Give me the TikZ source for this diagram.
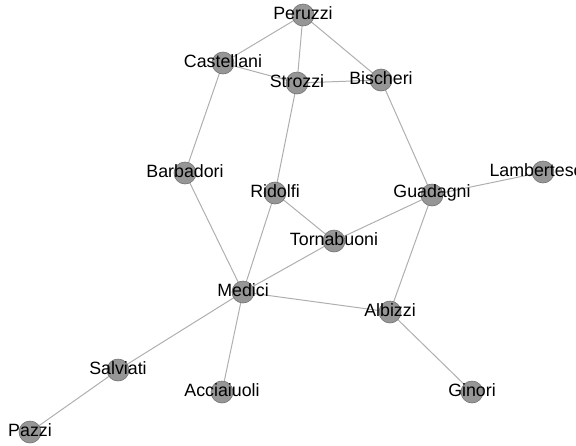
\documentclass[tikz,border=0pt]{standalone}
\usepackage{fontspec}
\setmainfont{Liberation Sans}
\definecolor{nodefill}{RGB}{150,150,150}
\definecolor{nodeline}{RGB}{115,115,115}
\definecolor{edgecol}{RGB}{175,175,175}
\tikzset{
  fam/.style={circle, fill=nodefill, draw=nodeline, line width=0.6pt, minimum size=22pt, inner sep=0pt},
  famlabel/.style={font=\fontsize{17.8}{20}\selectfont, text=black, inner sep=0pt, yshift=2pt},
  tie/.style={draw=edgecol, line width=1pt}
}
\begin{document}
\begin{tikzpicture}[x=1pt,y=-1pt]
\useasboundingbox (0,0) rectangle (576,445);
\clip (0,0) rectangle (576,445);
% family positions
\coordinate (Peruzzi) at (303,15);
\coordinate (Castellani) at (223,63);
\coordinate (Strozzi) at (297,83);
\coordinate (Bischeri) at (381,80);
\coordinate (Barbadori) at (185,173);
\coordinate (Ridolfi) at (275,193);
\coordinate (Guadagni) at (432,195);
\coordinate (Lamberteschi) at (543,172);
\coordinate (Tornabuoni) at (334,241);
\coordinate (Medici) at (243,292);
\coordinate (Albizzi) at (390,312);
\coordinate (Salviati) at (118,370);
\coordinate (Acciaiuoli) at (222,392);
\coordinate (Ginori) at (472,392);
\coordinate (Pazzi) at (30,432);
% marriage ties
\foreach \a/\b in {Peruzzi/Castellani, Peruzzi/Strozzi, Peruzzi/Bischeri,
  Castellani/Strozzi, Strozzi/Bischeri, Castellani/Barbadori, Strozzi/Ridolfi,
  Bischeri/Guadagni, Barbadori/Medici, Ridolfi/Medici, Ridolfi/Tornabuoni,
  Guadagni/Lamberteschi, Guadagni/Tornabuoni, Guadagni/Albizzi,
  Tornabuoni/Medici, Medici/Albizzi, Medici/Salviati, Medici/Acciaiuoli,
  Albizzi/Ginori, Salviati/Pazzi}
  \draw[tie] (\a) -- (\b);
% family markers and names
\foreach \n in {Peruzzi, Castellani, Strozzi, Bischeri, Barbadori, Ridolfi,
  Guadagni, Lamberteschi, Tornabuoni, Medici, Albizzi, Salviati, Acciaiuoli,
  Ginori, Pazzi}
{
  \node[fam] (\n-dot) at (\n) {};
  \node[famlabel] (\n-name) at (\n) {\n};
}
\end{tikzpicture}
\end{document}
